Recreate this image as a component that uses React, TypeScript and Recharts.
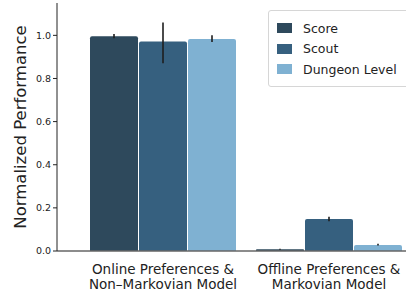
import { Bar, BarChart, ErrorBar, Legend, XAxis, YAxis } from "recharts";

const categories = ["Online Preferences &\nNon\u2013Markovian Model", "Offline Preferences &\nMarkovian Model"];
const scoreValues = [0.996, 0.008];
const scoutValues = [0.971, 0.148];
const dungeonValues = [0.983, 0.028];
const scoreErr = [[0.01, 0.01], [0.002, 0.002]];
const scoutErr = [[0.1, 0.088], [0.01, 0.011]];
const dungeonErr = [[0.014, 0.017], [0.003, 0.006]];
const yTicks = [0, 0.2, 0.4, 0.6, 0.8, 1.0];

const series = [
  { key: "score", name: "Score", color: "#2e495c" },
  { key: "scout", name: "Scout", color: "#36607f" },
  { key: "dungeon", name: "Dungeon Level", color: "#7fb1d2" },
];

const data = categories.map((c, i) => ({
  name: c,
  score: scoreValues[i],
  scout: scoutValues[i],
  dungeon: dungeonValues[i],
  scoreErr: scoreErr[i],
  scoutErr: scoutErr[i],
  dungeonErr: dungeonErr[i],
}));

const font = "'DejaVu Sans', sans-serif";

function CategoryTick(props: any) {
  const { x, y, payload } = props;
  const lines = String(payload.value).split("\n");
  return (
    <text x={x} y={y} textAnchor="middle" fill="#222" fontSize={13.5} fontFamily={font}>
      {lines.map((l: string, i: number) => (
        <tspan key={i} x={x} dy={15}>
          {l}
        </tspan>
      ))}
    </text>
  );
}

function LegendBox() {
  return (
    <div
      style={{
        border: "1px solid #d6d6d6",
        borderRadius: 3,
        background: "white",
        padding: "7px 14px 6px 8px",
        fontFamily: font,
        fontSize: 12.5,
        color: "#222",
      }}
    >
      {series.map((s) => (
        <div key={s.key} style={{ display: "flex", alignItems: "center", height: 20.5 }}>
          <span style={{ width: 15, height: 10, background: s.color, marginRight: 11 }} />
          <span>{s.name}</span>
        </div>
      ))}
    </div>
  );
}

export default function App() {
  return (
    <div style={{ position: "absolute", left: 0, top: 0, width: 406, height: 291, overflow: "hidden", background: "white" }}>
      <BarChart
        width={412}
        height={291}
        data={data}
        margin={{ top: 3, right: 0, left: 0, bottom: 0 }}
        barSize={48}
        barGap={1}
      >
        <XAxis
          dataKey="name"
          tick={<CategoryTick />}
          tickLine={false}
          axisLine={{ stroke: "#666", strokeWidth: 1.5 }}
          padding={{ left: 23, right: 0 }}
          interval={0}
          height={40}
        />
        <YAxis
          width={57}
          domain={[0, 1.15]}
          ticks={yTicks}
          tickFormatter={(v: number) => v.toFixed(1)}
          tick={{ fill: "#222", fontSize: 9.5, fontFamily: font }}
          tickSize={4}
          tickLine={{ stroke: "#222" }}
          axisLine={{ stroke: "#222", strokeWidth: 1 }}
          allowDataOverflow
          label={{
            value: "Normalized Performance",
            angle: -90,
            position: "insideLeft",
            offset: 20,
            style: { textAnchor: "middle", fill: "#222", fontSize: 16.5, fontFamily: font },
          }}
        />
        <Legend
          verticalAlign="middle"
          align="center"
          layout="horizontal"
          content={<LegendBox />}
          wrapperStyle={{ position: "absolute", left: 268, top: 10, width: 160 }}
        />
        {series.map((s) => (
          <Bar
            key={s.key}
            dataKey={s.key}
            name={s.name}
            fill={s.color}
            radius={[2, 2, 0, 0]}
            isAnimationActive={false}
          >
            <ErrorBar dataKey={s.key + "Err"} width={0} stroke="#1e1e1e" strokeWidth={1.6} />
          </Bar>
        ))}
      </BarChart>
    </div>
  );
}
